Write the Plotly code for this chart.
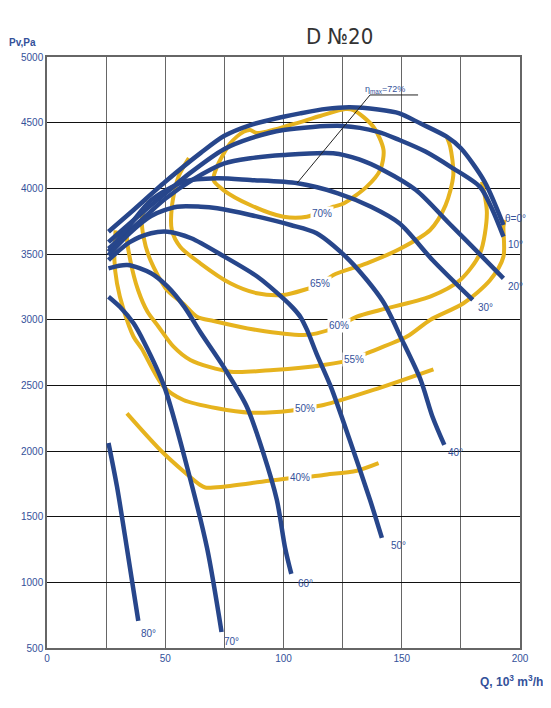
import plotly.graph_objects as go

# Fan D No20: pressure curves by blade angle (Q in 10^3 m3/h, Pv in Pa)
angle_names = ["θ=0°", "10°", "20°", "30°", "40°", "50°", "60°", "70°", "80°"]

q_0 = [26, 35, 50, 65, 75, 86, 100, 107, 118, 128, 140, 149, 158, 169, 175, 185, 193]
p_0 = [3670, 3810, 4050, 4270, 4400, 4482, 4545, 4571, 4605, 4617, 4600, 4571, 4493, 4393, 4305, 4051, 3721]

q_10 = [26, 40, 50, 60, 75, 86, 100, 125, 140, 149, 160, 171, 183, 188, 193]
p_10 = [3590, 3810, 3960, 4110, 4300, 4381, 4444, 4475, 4430, 4368, 4280, 4160, 4013, 3850, 3632]

q_20 = [26, 40, 50, 62, 75, 86, 100, 121, 132, 142, 156, 170, 184, 193]
p_20 = [3540, 3760, 3920, 4070, 4190, 4229, 4254, 4267, 4220, 4140, 3987, 3734, 3480, 3315]

q_30 = [26, 35, 44, 58, 72, 86, 106, 123, 137, 149, 163, 180]
p_30 = [3518, 3720, 3910, 4051, 4076, 4063, 4038, 3962, 3860, 3734, 3454, 3150]

q_40 = [26, 35, 44, 55, 65, 72, 86, 103, 114, 128, 142, 150, 158, 163, 168]
p_40 = [3490, 3660, 3790, 3860, 3860, 3848, 3797, 3721, 3658, 3450, 3140, 2850, 2541, 2261, 2046]

q_50 = [26, 35, 44, 51, 61, 75, 89, 100, 104, 107.1, 110, 114, 120, 128, 136.6, 141.6]
p_50 = [3454, 3590, 3658, 3670, 3620, 3480, 3327, 3160, 3090, 3023, 2920, 2740, 2490, 2084, 1627, 1338]

q_60 = [26, 34, 44, 51, 58, 65, 74.6, 84.5, 91.5, 97.2, 100.7, 103.3]
p_60 = [3391, 3416, 3353, 3251, 3099, 2900, 2642, 2337, 1983, 1627, 1259, 1064]

q_70 = [26, 31, 36.6, 41, 49.6, 59.2, 67.7, 73.8]
p_70 = [3175, 3095, 2972, 2830, 2490, 1880, 1259, 622]

q_80 = [26, 29.6, 33.8, 38.6]
p_80 = [2061, 1728, 1259, 706]

# efficiency curves
eff_names = ["70%", "65%", "60%", "55%", "50%", "40%"]

q_e70 = [109.9, 100, 85.9, 74.6, 70.4, 71.9, 77.5, 83.1, 85.9, 88.8, 102.8, 115.5, 126.1, 129.6,
         138, 142.3, 140.9, 135.2, 125.4, 121.1, 109.9]
p_e70 = [3784, 3784, 3873, 3987, 4063, 4165, 4343, 4431, 4444, 4421, 4482, 4551, 4604, 4596,
         4469, 4292, 4140, 4013, 3884, 3860, 3784]

q_e65 = [60, 55.6, 52.8, 52.8, 56.3, 64.8, 77.5, 88.8, 100, 108.5, 115.5, 121.1, 135.2, 149.3,
         162, 168.5, 171.8, 170.5, 169]
p_e65 = [4230, 4089, 3860, 3681, 3556, 3429, 3277, 3201, 3188, 3226, 3272, 3340, 3429, 3540,
         3683, 3870, 4100, 4317, 4393]

q_e60 = [43, 40.2, 40.8, 43.7, 50.7, 57.8, 63.4, 70.4, 88.8, 108.5, 114.1, 123.5, 131, 140.9,
         162, 174.7, 183.1, 186, 183.9]
p_e60 = [3900, 3784, 3632, 3454, 3226, 3120, 3023, 2990, 2921, 2883, 2896, 2952, 3023, 3074,
         3175, 3302, 3505, 3810, 4050]

q_e55 = [35, 33.8, 35.2, 38.5, 42.5, 47, 53.5, 60.6, 77.5, 95.8, 116.9, 129.9, 135.2, 152.2,
         162, 176.1, 187.4, 193, 193, 193.5]
p_e55 = [3720, 3632, 3454, 3226, 3060, 2950, 2794, 2693, 2604, 2617, 2655, 2700, 2744, 2871,
         2998, 3125, 3302, 3480, 3708, 3760]

q_e50 = [29, 28.5, 29.6, 32.4, 36.6, 40, 49.3, 57.7, 71.9, 85.9, 102.8, 109.2, 116.9, 138, 163.4]
p_e50 = [3680, 3454, 3277, 3074, 2870, 2780, 2490, 2388, 2325, 2292, 2307, 2327, 2350, 2465, 2622]

q_e40 = [33.8, 49.3, 64.8, 66.9, 74.6, 91.5, 102.8, 107.1, 116.9, 131, 140.2]
p_e40 = [2287, 1983, 1741, 1722, 1728, 1767, 1792, 1795, 1818, 1850, 1907]

# label positions
angle_label_q = [193, 194.1, 194.1, 181.4, 168.8, 144.7, 105.4, 74.1, 39]
angle_label_p = [3774, 3569, 3249, 3089, 1992, 1277, 988, 546, 607]
eff_label_q = [116.4, 115.5, 123.5, 130, 109.2, 107.1]
eff_label_p = [3812, 3272, 2952, 2700, 2327, 1795]

# eta max leader
eta_q = [105.8, 136.6, 156.9]
eta_p = [4041, 4711, 4711]

BLUE = "#27468b"
GOLD = "#e6b31e"
TXT = "#34519a"
FONT = "Liberation Sans, Arial, sans-serif"

fig = go.Figure()

eff_q = [q_e70, q_e65, q_e60, q_e55, q_e50, q_e40]
eff_p = [p_e70, p_e65, p_e60, p_e55, p_e50, p_e40]
for name, q, p in zip(eff_names, eff_q, eff_p):
    fig.add_trace(go.Scatter(x=q, y=p, mode="lines", name=name,
                             line=dict(color=GOLD, width=4, shape="spline", smoothing=0.8)))

ang_q = [q_0, q_10, q_20, q_30, q_40, q_50, q_60, q_70, q_80]
ang_p = [p_0, p_10, p_20, p_30, p_40, p_50, p_60, p_70, p_80]
for name, q, p in zip(angle_names, ang_q, ang_p):
    fig.add_trace(go.Scatter(x=q, y=p, mode="lines", name=name,
                             line=dict(color=BLUE, width=4.5, shape="spline", smoothing=0.8)))

fig.add_trace(go.Scatter(x=eta_q, y=eta_p, mode="lines", line=dict(color="#222", width=1)))

for name, q, p in zip(eff_names, eff_label_q, eff_label_p):
    fig.add_annotation(x=q, y=p, text=name, showarrow=False, bgcolor="white", borderpad=1,
                       font=dict(size=10, color=TXT, family=FONT))

for name, q, p in zip(angle_names, angle_label_q, angle_label_p):
    fig.add_annotation(x=q, y=p, text=name, showarrow=False, xanchor="left",
                       font=dict(size=10, color=TXT, family=FONT))

fig.add_annotation(x=143, y=4752, text="η<sub>max</sub>=72%", showarrow=False,
                   font=dict(size=9, color=TXT, family=FONT))

fig.add_annotation(xref="paper", yref="paper", x=0.619, y=1.059, text="D №20", showarrow=False,
                   font=dict(size=22, color="#333",
                             family="DejaVu Sans Condensed, Liberation Sans Narrow, sans-serif"))
fig.add_annotation(xref="paper", yref="paper", x=-0.085, y=1.037, xanchor="left",
                   text="<b>Pv,Pa</b>", showarrow=False,
                   font=dict(size=10, color=TXT, family=FONT))
fig.add_annotation(xref="paper", yref="paper", x=1.053, y=-0.072, xanchor="right",
                   text="<b>Q, 10<sup>3</sup> m<sup>3</sup>/h</b>", showarrow=False,
                   font=dict(size=12, color=TXT, family=FONT))

fig.update_layout(
    width=543, height=700,
    margin=dict(l=39, r=31, t=49, b=60),
    paper_bgcolor="white", plot_bgcolor="white",
    showlegend=False,
    xaxis=dict(range=[0, 200], tick0=0, dtick=50, showgrid=True,
               gridcolor="#666", gridwidth=1.3, showline=True, linecolor="#666", linewidth=1.5,
               mirror=True, zeroline=False, ticks="",
               minor=dict(dtick=25, showgrid=True, gridcolor="#666", gridwidth=1.3),
               tickfont=dict(size=10, color=TXT, family=FONT)),
    yaxis=dict(range=[500, 5000], tick0=500, dtick=500, showgrid=True, gridcolor="#111",
               gridwidth=1.2, showline=True, linecolor="#666", linewidth=1.5, mirror=True,
               zeroline=False, ticks="",
               tickfont=dict(size=10, color=TXT, family=FONT)),
)

fig.write_html("out.html")
